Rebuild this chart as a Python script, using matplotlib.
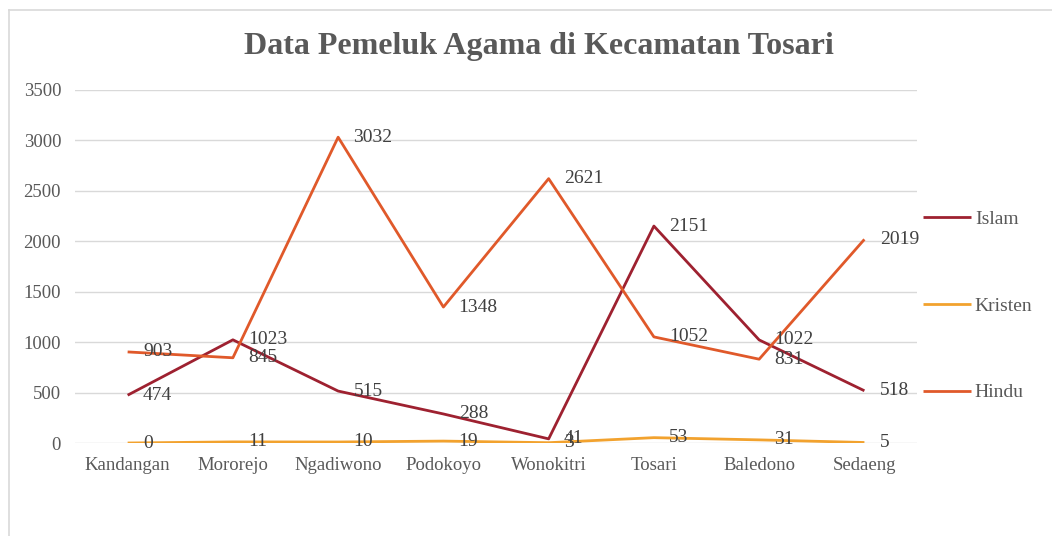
import matplotlib
matplotlib.use("Agg")
import matplotlib.pyplot as plt
from matplotlib.lines import Line2D

# data
desa = ["Kandangan", "Mororejo", "Ngadiwono", "Podokoyo", "Wonokitri",
        "Tosari", "Baledono", "Sedaeng"]
islam = [474, 1023, 515, 288, 41, 2151, 1022, 518]
kristen = [0, 11, 10, 19, 3, 53, 31, 5]
hindu = [903, 845, 3032, 1348, 2621, 1052, 831, 2019]

plt.rcParams['font.family'] = ['Liberation Serif', 'DejaVu Serif']

fig = plt.figure(figsize=(10.52, 5.36), dpi=100)
ax = fig.add_axes([0.0713, 0.1735, 0.8004, 0.6586])

x = list(range(len(desa)))
series = [("Islam", islam, "#9E2130"),
          ("Kristen", kristen, "#F2A22E"),
          ("Hindu", hindu, "#E0592A")]
for name, vals, col in series:
    ax.plot(x, vals, color=col, lw=2.0, label=name, solid_capstyle='butt')
    for xi, v in zip(x, vals):
        ax.annotate(str(v), (xi, v), xytext=(11, 0), textcoords='offset points',
                    va='center', ha='left', fontsize=14, color='#404040')

ax.set_xlim(-0.5, len(desa) - 0.5)
ax.set_ylim(0, 3500)
ax.set_yticks(range(0, 3501, 500))
ax.set_xticks(x)
ax.set_xticklabels(desa)
ax.tick_params(length=0, labelsize=13.5, colors='#595959')
ax.tick_params(axis='y', pad=10)
ax.tick_params(axis='x', pad=10)
ax.grid(axis='y', color='#D9D9D9', lw=1)
ax.set_axisbelow(True)
for s in ax.spines.values():
    s.set_visible(False)

ax.legend(loc='center left', bbox_to_anchor=(1.007, 0.388), frameon=False,
          fontsize=14, labelspacing=3.55, handlelength=2.47, handletextpad=0.2,
          borderpad=0, borderaxespad=0, labelcolor='#595959')

fig.text(0.512, 0.913, "Data Pemeluk Agama di Kecamatan Tosari", ha='center',
         va='center', fontsize=23, fontweight='bold', color='#595959')

# chart frame (left and top edges only)
fig.add_artist(Line2D([9/1052, 9/1052], [0, 1 - 10/536], color='#D9D9D9', lw=1.2,
                      transform=fig.transFigure))
fig.add_artist(Line2D([9/1052, 1], [1 - 10/536, 1 - 10/536], color='#D9D9D9', lw=1.2,
                      transform=fig.transFigure))

fig.savefig("out.png", dpi=100)
